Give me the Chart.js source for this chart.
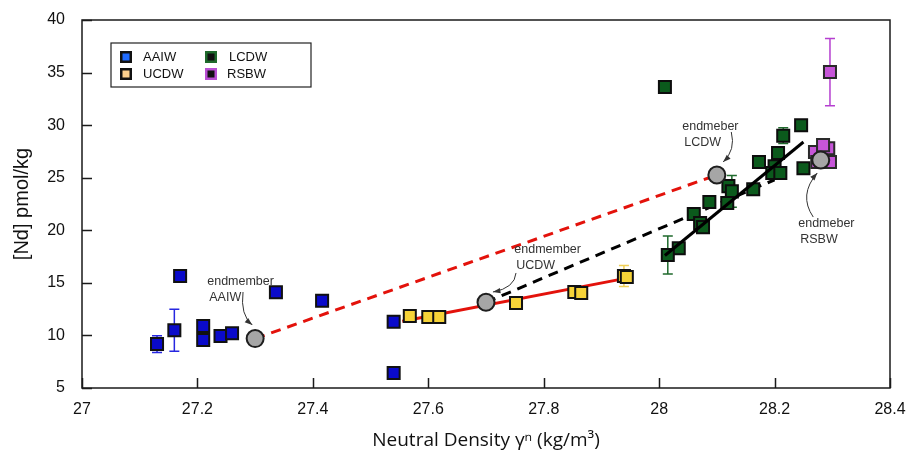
<!DOCTYPE html>
<html>
<head>
<meta charset="utf-8">
<script src="https://cdn.jsdelivr.net/npm/chart.js@4.4.1/dist/chart.umd.min.js"></script>
<style>
  html, body { margin: 0; padding: 0; background: #fff; }
  canvas { display: block; }
</style>
</head>
<body>
<canvas id="ndChart" width="913" height="454"></canvas>
<script>
// water mass samples: neutral density vs [Nd]
const aaiwX = [27.13, 27.16, 27.17, 27.21, 27.21, 27.24, 27.26, 27.336, 27.416, 27.54, 27.54];
const aaiwY = [9.18, 10.5, 15.65, 10.9, 9.57, 9.95, 10.2, 14.1, 13.3, 11.3, 6.43];
const aaiwErr = [0.8, 2.0, 0, 0, 0.6, 0, 0, 0, 0, 0, 0.5];

const ucdwX = [27.568, 27.60, 27.619, 27.752, 27.853, 27.865, 27.939, 27.944];
const ucdwY = [11.85, 11.75, 11.75, 13.08, 14.13, 14.04, 15.65, 15.56];
const ucdwErr = [0, 0, 0, 0, 0, 0, 1.0, 0];

const lcdwX = [28.01, 28.246, 28.215, 28.206, 28.173, 28.2, 28.196, 28.21, 28.25, 28.163,
               28.12, 28.126, 28.118, 28.087, 28.06, 28.071, 28.076, 28.034, 28.015];
const lcdwY = [33.63, 30.0, 29.0, 27.35, 26.5, 26.1, 25.45, 25.45, 25.9, 23.9,
               24.2, 23.7, 22.6, 22.7, 21.55, 20.7, 20.3, 18.3, 17.65];
const lcdwErr = [0, 0, 0.75, 0, 0, 0, 0, 0, 0, 0, 0, 1.5, 0, 0, 0, 0, 0, 0, 1.8];

const rsbwX = [28.296, 28.27, 28.293, 28.284, 28.296, 28.274];
const rsbwY = [35.05, 27.45, 27.8, 28.1, 26.5, 26.5];
const rsbwErr = [3.2, 0, 0, 0, 0.3, 0];

// endmembers AAIW, UCDW, LCDW, RSBW
const endX = [27.3, 27.7, 28.1, 28.28];
const endY = [9.7, 13.15, 25.26, 26.68];

// mixing lines
const redSolidX = [27.555, 27.944];
const redSolidY = [11.35, 15.45];
const redDashX = [27.3, 28.1];
const redDashY = [9.7, 25.26];
const blackDashX = [27.7, 28.2];
const blackDashY = [13.15, 24.8];
const blackSolidX = [28.01, 28.25];
const blackSolidY = [17.6, 28.4];

const legendNames = ['AAIW', 'UCDW', 'LCDW', 'RSBW'];
const xTicks = [27, 27.2, 27.4, 27.6, 27.8, 28, 28.2, 28.4];
const yTicks = [5, 10, 15, 20, 25, 30, 35, 40];

// annotation labels (in data units) with curved arrows
const notes = [
  { lines: ['endmember', 'AAIW'], at: [27.217, 15.08], from: [27.279, 14.13], ctrl: [27.274, 11.94], to: [27.295, 10.99] },
  { lines: ['endmember', 'UCDW'], at: [27.749, 18.13], from: [27.752, 15.94], ctrl: [27.75, 14.51], to: [27.712, 14.13] },
  { lines: ['endmeber', 'LCDW'], at: [28.04, 29.82], from: [28.125, 29.35], ctrl: [28.133, 27.64], to: [28.111, 26.5] },
  { lines: ['endmeber', 'RSBW'], at: [28.241, 20.6], from: [28.267, 21.26], ctrl: [28.241, 23.36], to: [28.274, 25.45] }
];

function pts(xs, ys) {
  return xs.map((x, i) => ({ x: x, y: ys[i] }));
}

const errSets = [
  { x: aaiwX, y: aaiwY, e: aaiwErr, color: '#2727e0' },
  { x: ucdwX, y: ucdwY, e: ucdwErr, color: '#f0cf55' },
  { x: lcdwX, y: lcdwY, e: lcdwErr, color: '#1f6a2c' },
  { x: rsbwX, y: rsbwY, e: rsbwErr, color: '#b53fd0' }
];

const extras = {
  id: 'extras',
  beforeDatasetsDraw(chart) {
    const ctx = chart.ctx, xs = chart.scales.x, ys = chart.scales.y;
    ctx.save();
    ctx.lineWidth = 1.5;
    errSets.forEach(s => {
      ctx.strokeStyle = s.color;
      s.e.forEach((e, i) => {
        if (!e) return;
        const px = xs.getPixelForValue(s.x[i]);
        const top = ys.getPixelForValue(s.y[i] + e);
        const bot = ys.getPixelForValue(s.y[i] - e);
        ctx.beginPath();
        ctx.moveTo(px, top); ctx.lineTo(px, bot);
        ctx.moveTo(px - 5, top); ctx.lineTo(px + 5, top);
        ctx.moveTo(px - 5, bot); ctx.lineTo(px + 5, bot);
        ctx.stroke();
      });
    });
    ctx.restore();
  },
  afterDraw(chart) {
    const ctx = chart.ctx, xs = chart.scales.x, ys = chart.scales.y;
    const a = chart.chartArea;
    ctx.save();

    // frame and inward ticks
    ctx.strokeStyle = '#1a1a1a';
    ctx.lineWidth = 1.5;
    ctx.strokeRect(a.left, a.top, a.right - a.left, a.bottom - a.top);
    ctx.beginPath();
    xTicks.forEach(v => {
      const px = Math.round(xs.getPixelForValue(v)) + 0.5;
      ctx.moveTo(px, a.bottom); ctx.lineTo(px, a.bottom - 10);
    });
    yTicks.forEach(v => {
      const py = Math.round(ys.getPixelForValue(v)) + 0.5;
      ctx.moveTo(a.left, py); ctx.lineTo(a.left + 10, py);
    });
    ctx.stroke();

    // legend box
    ctx.fillStyle = '#fff';
    ctx.fillRect(111, 43, 200, 44);
    ctx.strokeStyle = '#222';
    ctx.lineWidth = 1.2;
    ctx.strokeRect(111, 43, 200, 44);
    const lg = [
      { fill: '#1f6bff', edge: '#111', x: 126, y: 57, tx: 143 },
      { fill: '#fcd08e', edge: '#111', x: 126, y: 74, tx: 143 },
      { fill: '#111', edge: '#1f6a2c', x: 211, y: 57, tx: 229 },
      { fill: '#111', edge: '#b94fd3', x: 211, y: 74, tx: 227 }
    ];
    ctx.font = '13px "Liberation Sans", Arial, sans-serif';
    ctx.textBaseline = 'middle';
    ctx.textAlign = 'left';
    lg.forEach((m, i) => {
      ctx.fillStyle = m.edge;
      ctx.fillRect(m.x - 6, m.y - 6, 12, 12);
      ctx.fillStyle = m.fill;
      ctx.fillRect(m.x - 3.5, m.y - 3.5, 7, 7);
      ctx.fillStyle = '#111';
      ctx.fillText(legendNames[i], m.tx, m.y);
    });

    // endmember notes
    ctx.font = '12.5px "Liberation Sans", Arial, sans-serif';
    ctx.fillStyle = '#333';
    ctx.strokeStyle = '#333';
    ctx.lineWidth = 1;
    notes.forEach(n => {
      const tx = xs.getPixelForValue(n.at[0]), ty = ys.getPixelForValue(n.at[1]);
      n.lines.forEach((t, k) => ctx.fillText(t, tx + (k ? 2 : 0), ty + k * 16));
      const f = [xs.getPixelForValue(n.from[0]), ys.getPixelForValue(n.from[1])];
      const c = [xs.getPixelForValue(n.ctrl[0]), ys.getPixelForValue(n.ctrl[1])];
      const t = [xs.getPixelForValue(n.to[0]), ys.getPixelForValue(n.to[1])];
      ctx.beginPath();
      ctx.moveTo(f[0], f[1]);
      ctx.quadraticCurveTo(c[0], c[1], t[0], t[1]);
      ctx.stroke();
      const ang = Math.atan2(t[1] - c[1], t[0] - c[0]);
      ctx.beginPath();
      ctx.moveTo(t[0], t[1]);
      ctx.lineTo(t[0] - 8 * Math.cos(ang - 0.35), t[1] - 8 * Math.sin(ang - 0.35));
      ctx.lineTo(t[0] - 8 * Math.cos(ang + 0.35), t[1] - 8 * Math.sin(ang + 0.35));
      ctx.closePath();
      ctx.fill();
    });
    ctx.restore();
  }
};

function square(label, xs, ys, fill, edge, order) {
  return {
    type: 'scatter', label: label, data: pts(xs, ys), order: order,
    pointStyle: 'rect', pointRadius: 8.5, pointBorderWidth: 2,
    backgroundColor: fill, borderColor: edge
  };
}

function mixLine(xs, ys, color, dash, order) {
  return {
    type: 'line', data: pts(xs, ys), order: order,
    borderColor: color, borderWidth: 3, borderDash: dash,
    pointRadius: 0, fill: false, tension: 0
  };
}

new Chart(document.getElementById('ndChart'), {
  data: {
    datasets: [
      {
        type: 'scatter', label: 'endmember', data: pts(endX, endY), order: 0,
        pointStyle: 'circle', pointRadius: 8.5, pointBorderWidth: 2,
        backgroundColor: '#a6a6a6', borderColor: '#1e1e1e'
      },
      square('RSBW', rsbwX, rsbwY, '#c655d8', '#2a2a2a', 1),
      mixLine(blackSolidX, blackSolidY, '#000', [], 2),
      square('LCDW', lcdwX, lcdwY, '#0b5a1c', '#0d0d0d', 3),
      mixLine(blackDashX, blackDashY, '#000', [10, 7], 4),
      square('UCDW', ucdwX, ucdwY, '#f6d338', '#111', 5),
      square('AAIW', aaiwX, aaiwY, '#0a0acb', '#111', 6),
      mixLine(redSolidX, redSolidY, '#e3120b', [], 7),
      mixLine(redDashX, redDashY, '#e3120b', [10, 7], 8)
    ]
  },
  options: {
    responsive: false,
    animation: false,
    layout: { padding: { left: 0, top: 20, right: 23, bottom: 0 } },
    plugins: { legend: { display: false }, tooltip: { enabled: false } },
    scales: {
      x: {
        type: 'linear', min: 27, max: 28.4,
        afterFit: s => { s.height = 66; s.paddingLeft = 0; s.paddingRight = 0; },
        afterBuildTicks: s => { s.ticks = xTicks.map(v => ({ value: v })); },
        grid: { display: false, drawTicks: false },
        border: { display: false },
        ticks: {
          padding: 12, color: '#111',
          font: { family: '"Liberation Sans", Arial, sans-serif', size: 16 },
          callback: v => String(Number(v.toFixed(1)))
        },
        title: {
          display: true, text: 'Neutral Density γⁿ (kg/m³)', color: '#111',
          font: { family: '"Open Sans", sans-serif', size: 19 },
          padding: { top: 0, bottom: 2 }
        }
      },
      y: {
        type: 'linear', min: 5, max: 40,
        afterFit: s => { s.width = 82; s.paddingTop = 0; s.paddingBottom = 0; },
        afterBuildTicks: s => { s.ticks = yTicks.map(v => ({ value: v })); },
        grid: { display: false, drawTicks: false },
        border: { display: false },
        ticks: {
          padding: 17, color: '#111',
          font: { family: '"Liberation Sans", Arial, sans-serif', size: 16 }
        },
        title: {
          display: true, text: '[Nd] pmol/kg', color: '#111',
          font: { family: '"Liberation Sans", Arial, sans-serif', size: 20 },
          padding: { top: 10, bottom: 0 }
        }
      }
    }
  },
  plugins: [extras]
});
</script>
</body>
</html>
